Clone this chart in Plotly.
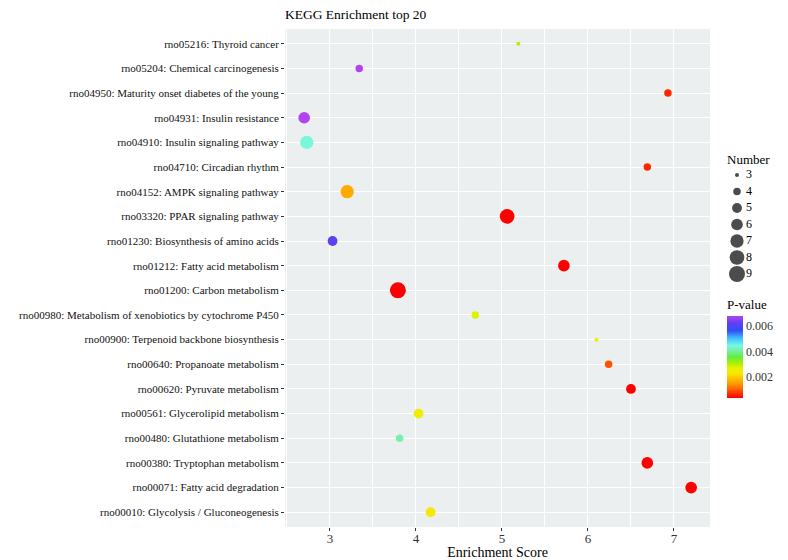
import plotly.graph_objects as go

pathways = [
    "rno05216: Thyroid cancer",
    "rno05204: Chemical carcinogenesis",
    "rno04950: Maturity onset diabetes of the young",
    "rno04931: Insulin resistance",
    "rno04910: Insulin signaling pathway",
    "rno04710: Circadian rhythm",
    "rno04152: AMPK signaling pathway",
    "rno03320: PPAR signaling pathway",
    "rno01230: Biosynthesis of amino acids",
    "rno01212: Fatty acid metabolism",
    "rno01200: Carbon metabolism",
    "rno00980: Metabolism of xenobiotics by cytochrome P450",
    "rno00900: Terpenoid backbone biosynthesis",
    "rno00640: Propanoate metabolism",
    "rno00620: Pyruvate metabolism",
    "rno00561: Glycerolipid metabolism",
    "rno00480: Glutathione metabolism",
    "rno00380: Tryptophan metabolism",
    "rno00071: Fatty acid degradation",
    "rno00010: Glycolysis / Gluconeogenesis",
]
enrichment = [5.19, 3.34, 6.93, 2.70, 2.73, 6.69, 3.20, 5.06, 3.03, 5.72,
              3.79, 4.69, 6.10, 6.24, 6.50, 4.03, 3.81, 6.69, 7.20, 4.17]
number = [3, 4, 4, 6, 7, 4, 7, 8, 5, 6, 9, 4, 3, 4, 5, 5, 4, 6, 6, 5]
pvalue = [0.0030, 0.0068, 0.0006, 0.0068, 0.0044, 0.0006, 0.0016, 0.0003, 0.0062, 0.0003,
          0.0003, 0.0027, 0.0025, 0.0009, 0.0003, 0.0024, 0.0041, 0.0003, 0.0003, 0.0023]
legend_numbers = [3, 4, 5, 6, 7, 8, 9]
x_ticks = [3, 4, 5, 6, 7]
p_ticks = [0.002, 0.004, 0.006]

FONT = "Liberation Serif"

# The page body has an 8px margin, so the figure is 8px smaller than the window
# and all pixel positions below are window positions minus 8.
OFF = 8
W, H = 788 - OFF, 560 - OFF
PL, PR, PT, PB = 285 - OFF, 710 - OFF, 29 - OFF, 527 - OFF   # main panel edges
L, T, B = PL, PT, H - PB
R = 0
PW = W - L - R            # paper width
PH = PB - PT              # paper height


def px_x(p):
    return (p - L) / PW


def px_y(p):
    return (PB - p) / PH


def dia(n):
    # area-proportional size scale (3 -> 4px, 9 -> 16px)
    return (16 + (256 - 16) * (n - 3) / 6) ** 0.5


colorscale = [
    [0.0, "#FF0000"],
    [0.06, "#FF3300"],
    [0.13, "#FF7700"],
    [0.20, "#FFAA00"],
    [0.30, "#F8E800"],
    [0.36, "#E8F200"],
    [0.42, "#B0F000"],
    [0.50, "#60EE40"],
    [0.58, "#78F0A8"],
    [0.64, "#78F8E4"],
    [0.73, "#40C0FF"],
    [0.82, "#3050F8"],
    [0.91, "#6040F0"],
    [1.0, "#B044F0"],
]

fig = go.Figure()
fig.add_trace(go.Scatter(
    x=enrichment, y=pathways, mode="markers", showlegend=False,
    xaxis="x", yaxis="y",
    marker=dict(size=[dia(n) for n in number], color=pvalue,
                colorscale=colorscale, cmin=0.0003, cmax=0.0068,
                line=dict(width=0), opacity=1,
                colorbar=dict(
                    title=dict(text="P-value", side="top",
                               font=dict(family=FONT, size=13, color="#000")),
                    x=px_x(727 - OFF), xanchor="left",
                    xpad=0, ypad=0,
                    y=px_y(398 - OFF), yanchor="bottom",
                    len=102, lenmode="pixels", thickness=16, thicknessmode="pixels",
                    tickvals=p_ticks, ticktext=[str(v) for v in p_ticks],
                    ticks="", outlinewidth=0,
                    tickfont=dict(family=FONT, size=12, color="#333"),
                )),
    hoverinfo="x+y",
))

# size legend ("Number") drawn on its own hidden axes
LX0 = 714 - OFF          # left pixel of legend axes
LX1 = W                  # right pixel
LW = LX1 - LX0
mark_x = 737 - OFF       # pixel of legend dots
text_x = 746 - OFF       # pixel where legend labels start
item0_y = 175 - OFF      # pixel of first item
step = 16.5              # pixels per item
x2_range = [-(mark_x - LX0) / LW, (LX1 - mark_x) / LW]
y2_top = legend_numbers[0] - (item0_y - PT) / step
y2_bot = legend_numbers[0] + (PB - item0_y) / step

fig.add_trace(go.Scatter(
    x=[0] * len(legend_numbers), y=legend_numbers, xaxis="x2", yaxis="y2",
    mode="markers", showlegend=False, hoverinfo="skip",
    marker=dict(size=[dia(n) for n in legend_numbers], color="black", line=dict(width=0)),
))
fig.add_trace(go.Scatter(
    x=[(text_x - mark_x) / LW] * len(legend_numbers), y=legend_numbers,
    xaxis="x2", yaxis="y2", mode="text", showlegend=False, hoverinfo="skip",
    text=[str(n) for n in legend_numbers], textposition="middle right",
    textfont=dict(family=FONT, size=12, color="#000"),
))

fig.update_layout(
    width=W, height=H,
    margin=dict(l=L, r=R, t=T, b=B, autoexpand=False),
    paper_bgcolor="white", plot_bgcolor="rgba(0,0,0,0)",
    font=dict(family=FONT, color="#333"),
    showlegend=False,
    title=dict(text="KEGG Enrichment top 20", x=L / W, xref="container", xanchor="left",
               y=1 - 6 / H, yref="container", yanchor="middle",
               font=dict(family=FONT, size=13.5, color="#000")),
    shapes=[dict(type="rect", xref="x domain", yref="y domain", x0=0, x1=1, y0=0, y1=1,
                 fillcolor="#EBEFEF", line=dict(width=0), layer="below")],
    xaxis=dict(domain=[0, px_x(PR)], range=[2.477, 7.419], tickvals=x_ticks,
               showgrid=True, automargin=False,
               gridcolor="white", gridwidth=1.2, zeroline=False,
               ticks="outside", ticklen=3, tickcolor="#333", ticklabelstandoff=-4,
               tickfont=dict(family=FONT, size=13, color="#333"),
               minor=dict(dtick=0.5, tick0=2.5, showgrid=True, gridcolor="white", gridwidth=0.6),
               title=dict(text="Enrichment Score", standoff=0,
                          font=dict(family=FONT, size=14, color="#000"))),
    yaxis=dict(domain=[0, 1], categoryorder="array", categoryarray=pathways[::-1],
               automargin=False,
               range=[-0.6, 19.6], showgrid=True, gridcolor="white", gridwidth=1.4,
               ticks="outside", ticklen=3, tickcolor="#333",
               tickfont=dict(family=FONT, size=11, color="#111")),
    xaxis2=dict(domain=[px_x(LX0), 1], range=x2_range, visible=False, fixedrange=True),
    yaxis2=dict(domain=[0, 1], range=[y2_bot, y2_top], anchor="x2", visible=False,
                fixedrange=True),
    annotations=[dict(text="Number", xref="paper", yref="paper",
                      x=px_x(725 - OFF), y=px_y(159 - OFF), xanchor="left", yanchor="middle",
                      showarrow=False, font=dict(family=FONT, size=13, color="#000"))],
)

fig.write_html("out.html")
